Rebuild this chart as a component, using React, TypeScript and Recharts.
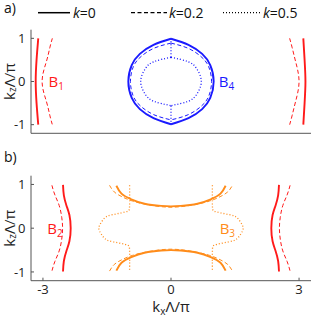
import { LineChart, Line, XAxis, YAxis, ReferenceDot, Label } from 'recharts';

type P = [number, number];

const kxTicks = [-3, 0, 3];
const kzTicks = [-1, 0, 1];
const kxDomain: [number, number] = [-3.28, 3.28];
const kzDomain: [number, number] = [-1.2, 1.2];
const kValues = ['0', '0.2', '0.5'];

// panel a
const b1SolidL: P[] = [[-3.11, 1.0], [-3.15, 0.5], [-3.17, 0], [-3.15, -0.5], [-3.11, -1.0]];
const b1SolidR: P[] = [[3.1, 1.0], [3.13, 0.5], [3.15, 0], [3.13, -0.5], [3.1, -1.0]];
const b1DashL: P[] = [[-2.78, 1.0], [-2.84, 0.78], [-2.92, 0.46], [-3.02, 0], [-2.92, -0.46], [-2.84, -0.78], [-2.78, -1.0]];
const b1DashR: P[] = [[2.78, 1.0], [2.84, 0.78], [2.92, 0.46], [3.0, 0], [2.92, -0.46], [2.84, -0.78], [2.78, -1.0]];
const b4SolidL: P[] = [[0, 0.99], [-0.41, 0.85], [-0.73, 0.64], [-0.92, 0.38], [-1.0, 0], [-0.92, -0.38], [-0.73, -0.64], [-0.41, -0.85], [0, -0.99]];
const b4SolidR: P[] = [[0, 0.99], [0.41, 0.85], [0.73, 0.64], [0.92, 0.38], [1.0, 0], [0.92, -0.38], [0.73, -0.64], [0.41, -0.85], [0, -0.99]];
const b4DashL: P[] = [[0, 0.89], [-0.4, 0.77], [-0.7, 0.58], [-0.88, 0.35], [-0.95, 0], [-0.88, -0.35], [-0.7, -0.58], [-0.4, -0.77], [0, -0.89]];
const b4DashR: P[] = [[0, 0.89], [0.4, 0.77], [0.7, 0.58], [0.88, 0.35], [0.95, 0], [0.88, -0.35], [0.7, -0.58], [0.4, -0.77], [0, -0.89]];
const b4DotL: P[] = [[0, 0.56], [-0.4, 0.46], [-0.6, 0.3], [-0.71, 0], [-0.6, -0.3], [-0.4, -0.46], [0, -0.56]];
const b4DotR: P[] = [[0, 0.56], [0.4, 0.46], [0.6, 0.3], [0.71, 0], [0.6, -0.3], [0.4, -0.46], [0, -0.56]];
const b4DotTop: P[] = [[0, 0.56], [0, 0.99]];
const b4DotBot: P[] = [[0, -0.56], [0, -0.99]];

// panel b
const b2SolidL: P[] = [[-2.53, 0.99], [-2.51, 0.75], [-2.45, 0.52], [-2.38, 0.3], [-2.35, 0], [-2.38, -0.3], [-2.45, -0.52], [-2.51, -0.75], [-2.53, -0.99]];
const b2SolidR: P[] = [[2.53, 0.99], [2.51, 0.75], [2.45, 0.52], [2.38, 0.3], [2.35, 0], [2.38, -0.3], [2.45, -0.52], [2.51, -0.75], [2.53, -0.99]];
const b2DashL: P[] = [[-2.79, 0.98], [-2.72, 0.76], [-2.62, 0.52], [-2.56, 0.25], [-2.54, 0], [-2.56, -0.25], [-2.62, -0.52], [-2.72, -0.76], [-2.79, -0.98]];
const b2DashR: P[] = [[2.79, 0.98], [2.72, 0.76], [2.62, 0.52], [2.56, 0.25], [2.54, 0], [2.56, -0.25], [2.62, -0.52], [2.72, -0.76], [2.79, -0.98]];
const b3SolidUp: P[] = [[-1.28, 0.97], [-1.16, 0.79], [-0.93, 0.66], [-0.62, 0.56], [-0.23, 0.51], [0, 0.5], [0.23, 0.51], [0.62, 0.56], [0.93, 0.66], [1.16, 0.79], [1.28, 0.97]];
const b3SolidDn: P[] = [[-1.28, -0.97], [-1.16, -0.79], [-0.93, -0.66], [-0.62, -0.56], [-0.23, -0.51], [0, -0.5], [0.23, -0.51], [0.62, -0.56], [0.93, -0.66], [1.16, -0.79], [1.28, -0.97]];
const b3DashUp: P[] = [[-1.44, 0.98], [-1.33, 0.83], [-1.15, 0.72], [-0.9, 0.62], [-0.5, 0.53], [0, 0.48], [0.5, 0.53], [0.9, 0.62], [1.15, 0.72], [1.33, 0.83], [1.44, 0.98]];
const b3DashDn: P[] = [[-1.44, -0.98], [-1.33, -0.83], [-1.15, -0.72], [-0.9, -0.62], [-0.5, -0.53], [0, -0.48], [0.5, -0.53], [0.9, -0.62], [1.15, -0.72], [1.33, -0.83], [1.44, -0.98]];
const b3DotL: P[] = [[-0.97, 0.98], [-0.97, 0.52], [-1.01, 0.39], [-1.16, 0.35], [-1.36, 0.31], [-1.52, 0.26], [-1.63, 0.14], [-1.69, 0], [-1.63, -0.14], [-1.52, -0.26], [-1.36, -0.31], [-1.16, -0.35], [-1.01, -0.39], [-0.97, -0.52], [-0.97, -0.98]];
const b3DotR: P[] = [[0.97, 0.98], [0.97, 0.52], [1.01, 0.39], [1.16, 0.35], [1.36, 0.31], [1.52, 0.26], [1.63, 0.14], [1.69, 0], [1.63, -0.14], [1.52, -0.26], [1.36, -0.31], [1.16, -0.35], [1.01, -0.39], [0.97, -0.52], [0.97, -0.98]];

const RED = '#ff1a1a';
const BLUE = '#1a1aff';
const ORANGE = '#ff8c1a';
const AXIS = '#555';

const lineStyle: Record<string, { w: number; dash?: string }> = {
  solid: { w: 1.9 },
  dash: { w: 1, dash: '4 2.5' },
  dot: { w: 1.3, dash: '1 2' },
};

type Series = { pts: P[]; color: string; kind: 'solid' | 'dash' | 'dot' };

const panelA: Series[] = [
  { pts: b1DashL, color: RED, kind: 'dash' },
  { pts: b1DashR, color: RED, kind: 'dash' },
  { pts: b1SolidL, color: RED, kind: 'solid' },
  { pts: b1SolidR, color: RED, kind: 'solid' },
  { pts: b4DotL, color: BLUE, kind: 'dot' },
  { pts: b4DotR, color: BLUE, kind: 'dot' },
  { pts: b4DotTop, color: BLUE, kind: 'dot' },
  { pts: b4DotBot, color: BLUE, kind: 'dot' },
  { pts: b4DashL, color: BLUE, kind: 'dash' },
  { pts: b4DashR, color: BLUE, kind: 'dash' },
  { pts: b4SolidL, color: BLUE, kind: 'solid' },
  { pts: b4SolidR, color: BLUE, kind: 'solid' },
];

const panelB: Series[] = [
  { pts: b2DashL, color: RED, kind: 'dash' },
  { pts: b2DashR, color: RED, kind: 'dash' },
  { pts: b2SolidL, color: RED, kind: 'solid' },
  { pts: b2SolidR, color: RED, kind: 'solid' },
  { pts: b3DotL, color: ORANGE, kind: 'dot' },
  { pts: b3DotR, color: ORANGE, kind: 'dot' },
  { pts: b3DashUp, color: ORANGE, kind: 'dash' },
  { pts: b3DashDn, color: ORANGE, kind: 'dash' },
  { pts: b3SolidUp, color: ORANGE, kind: 'solid' },
  { pts: b3SolidDn, color: ORANGE, kind: 'solid' },
];

const labelsA = [
  { kx: -2.69, sub: '1', color: RED },
  { kx: 1.3, sub: '4', color: BLUE },
];
const labelsB = [
  { kx: -2.72, sub: '2', color: RED },
  { kx: 1.32, sub: '3', color: ORANGE },
];

const toRows = (p: P[]) => p.map(([kx, kz]) => ({ kx, kz }));

const BTag = (props: any) => {
  const vb = props.viewBox || {};
  const x = (vb.x ?? 0) + (vb.width ?? 0) / 2;
  const y = (vb.y ?? 0) + (vb.height ?? 0) / 2;
  return (
    <text x={x} y={y + 5.5} textAnchor='middle' fontSize={15} fill={props.color}>
      B<tspan fontSize={10} dy={3}>{props.sub}</tspan>
    </text>
  );
};

const YTitle = (props: any) => {
  const vb = props.viewBox || {};
  const cx = 9;
  const cy = (vb.y ?? 0) + (vb.height ?? 0) / 2;
  return (
    <text x={cx} y={cy} transform={`rotate(-90 ${cx} ${cy})`} textAnchor='middle' dominantBaseline='central' fontSize={15} fill='#222'>
      k<tspan fontSize={10} dy={3}>z</tspan><tspan dy={-3}>Λ/π</tspan>
    </text>
  );
};

const XTitle = (props: any) => {
  const vb = props.viewBox || {};
  const cx = (vb.x ?? 0) + (vb.width ?? 0) / 2;
  const cy = (vb.y ?? 0) + 31.5;
  return (
    <text x={cx} y={cy} textAnchor='middle' fontSize={15} fill='#222'>
      k<tspan fontSize={10} dy={3}>x</tspan><tspan dy={-3}>Λ/π</tspan>
    </text>
  );
};

const Panel = ({ series, labels, bottom, xTicks, height, top }: any) => (
  <div style={{ position: 'absolute', left: 0, top }}>
    <LineChart width={312} height={height} margin={{ top: 29.7, right: 1, bottom: 0, left: 1 }}>
      <XAxis
        dataKey='kx'
        type='number'
        domain={kxDomain}
        allowDataOverflow
        ticks={xTicks}
        height={bottom}
        stroke={AXIS}
        tickSize={-3}
        tickMargin={7}
        tick={bottom > 20 ? { fontSize: 13, fill: '#222' } : false}
        tickFormatter={(v: number) => String(v)}
      >
        {bottom > 20 && <Label content={<XTitle />} />}
      </XAxis>
      <XAxis xAxisId='top' orientation='top' dataKey='kx' type='number' domain={kxDomain} allowDataOverflow ticks={xTicks} height={0} stroke={AXIS} tickSize={-3} tick={false} />
      <YAxis
        type='number'
        domain={kzDomain}
        allowDataOverflow
        ticks={kzTicks}
        width={30}
        stroke={AXIS}
        tickSize={-3}
        tickMargin={8.5}
        tick={{ fontSize: 13, fill: '#222' }}
        tickFormatter={(v: number) => String(v)}
      >
        <Label content={<YTitle />} />
      </YAxis>
      <YAxis yAxisId='right' orientation='right' type='number' domain={kzDomain} allowDataOverflow ticks={kzTicks} width={0} stroke={AXIS} tickSize={-3} tick={false} />
      {series.map((s: Series, i: number) => (
        <Line
          key={i}
          data={toRows(s.pts)}
          dataKey='kz'
          type='natural'
          stroke={s.color}
          strokeWidth={lineStyle[s.kind].w}
          strokeDasharray={lineStyle[s.kind].dash}
          dot={false}
          activeDot={false}
          isAnimationActive={false}
        />
      ))}
      {labels.map((l: any) => (
        <ReferenceDot key={l.sub} x={l.kx} y={0} r={0} fill='none' stroke='none' label={<BTag sub={l.sub} color={l.color} />} />
      ))}
    </LineChart>
  </div>
);

const Legend = () => {
  const spots = [
    { x1: 38, x2: 70, tx: 73 },
    { x1: 131, x2: 167, tx: 169 },
    { x1: 223, x2: 261, tx: 263 },
  ];
  return (
    <svg width={312} height={26} style={{ position: 'absolute', left: 0, top: 0 }}>
      {kValues.map((k, i) => {
        const s = spots[i];
        const st = lineStyle[['solid', 'dash', 'dot'][i]];
        return (
          <g key={k}>
            <line x1={s.x1} x2={s.x2} y1={12.7} y2={12.7} stroke='#000' strokeWidth={i === 0 ? 1.5 : 1.2} strokeDasharray={st.dash} />
            <text x={s.tx} y={17.5} fontSize={14} fill='#111'>
              <tspan fontStyle='italic'>k</tspan>={k}
            </text>
          </g>
        );
      })}
      <text x={4} y={12.5} fontSize={14} fill='#111'>a)</text>
    </svg>
  );
};

export default function App() {
  return (
    <div style={{ position: 'fixed', left: 0, top: 0, width: 312, height: 317, background: '#fff', fontFamily: '"Open Sans", sans-serif', overflow: 'hidden' }}>
      <Panel series={panelA} labels={labelsA} bottom={7} xTicks={[0]} height={140.3} top={-0.4} />
      <Panel series={panelB} labels={labelsB} bottom={36.3} xTicks={kxTicks} height={171} top={146} />
      <svg width={40} height={30} style={{ position: 'absolute', left: 0, top: 140 }}>
        <text x={4} y={21.5} fontSize={14} fill='#111' fontFamily='"Open Sans", sans-serif'>b)</text>
      </svg>
      <Legend />
    </div>
  );
}
